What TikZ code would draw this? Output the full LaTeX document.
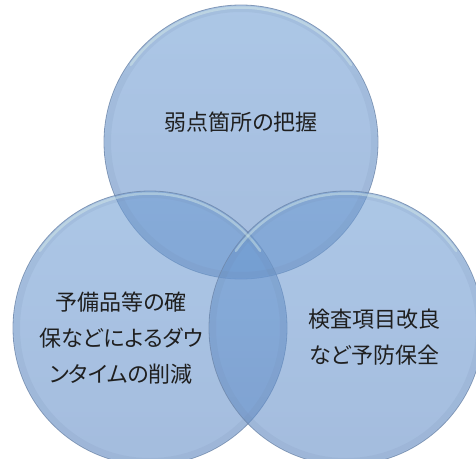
\documentclass[tikz,border=0pt]{standalone}
\usepackage{fontspec}
\usetikzlibrary{calc}
\newfontfamily\jp[RawFeature=+palt]{Noto Sans CJK JP}
\begin{document}
\begin{tikzpicture}[x=1pt,y=-1pt,
  venn/.style={circle, minimum size=274pt, inner sep=0pt,
    top color=vtop, bottom color=vbot, fill opacity=0.58, draw=vedge, draw opacity=0.8, line width=0.8pt},
  lbl/.style={font=\jp\fontsize{22}{36}\selectfont, text=black!88, align=center, text opacity=1}
]
\definecolor{vtop}{RGB}{112,158,212}
\definecolor{vbot}{RGB}{98,140,198}
\definecolor{vedge}{RGB}{110,135,170}
\definecolor{vglow}{RGB}{225,245,235}
\useasboundingbox (0,0) rectangle (476,458);
\clip (0,0) rectangle (476,458);
\node[venn] (ctop) at (241,142) {};
\node[venn] (cleft) at (150,328) {};
\node[venn] (cright) at (346,328) {};
% inner shading ring and top highlights
\foreach \c in {ctop,cleft,cright}{
  \draw[vedge, opacity=0.12, line width=6pt] (\c) circle[radius=133pt];
  \draw[vglow, opacity=0.4, line width=2.5pt, line cap=round] ($(\c)+(-145:134.5)$) arc[start angle=145, end angle=35, radius=134.5pt];
}
\node[lbl] (ttop) at (241,122) {弱点箇所の把握};
\node[lbl] (tleft) at (121,338) {予備品等の確\\保などによるダウ\\ンタイムの削減};
\node[lbl] (tright) at (374,337) {検査項目改良\\など予防保全};
\end{tikzpicture}
\end{document}
